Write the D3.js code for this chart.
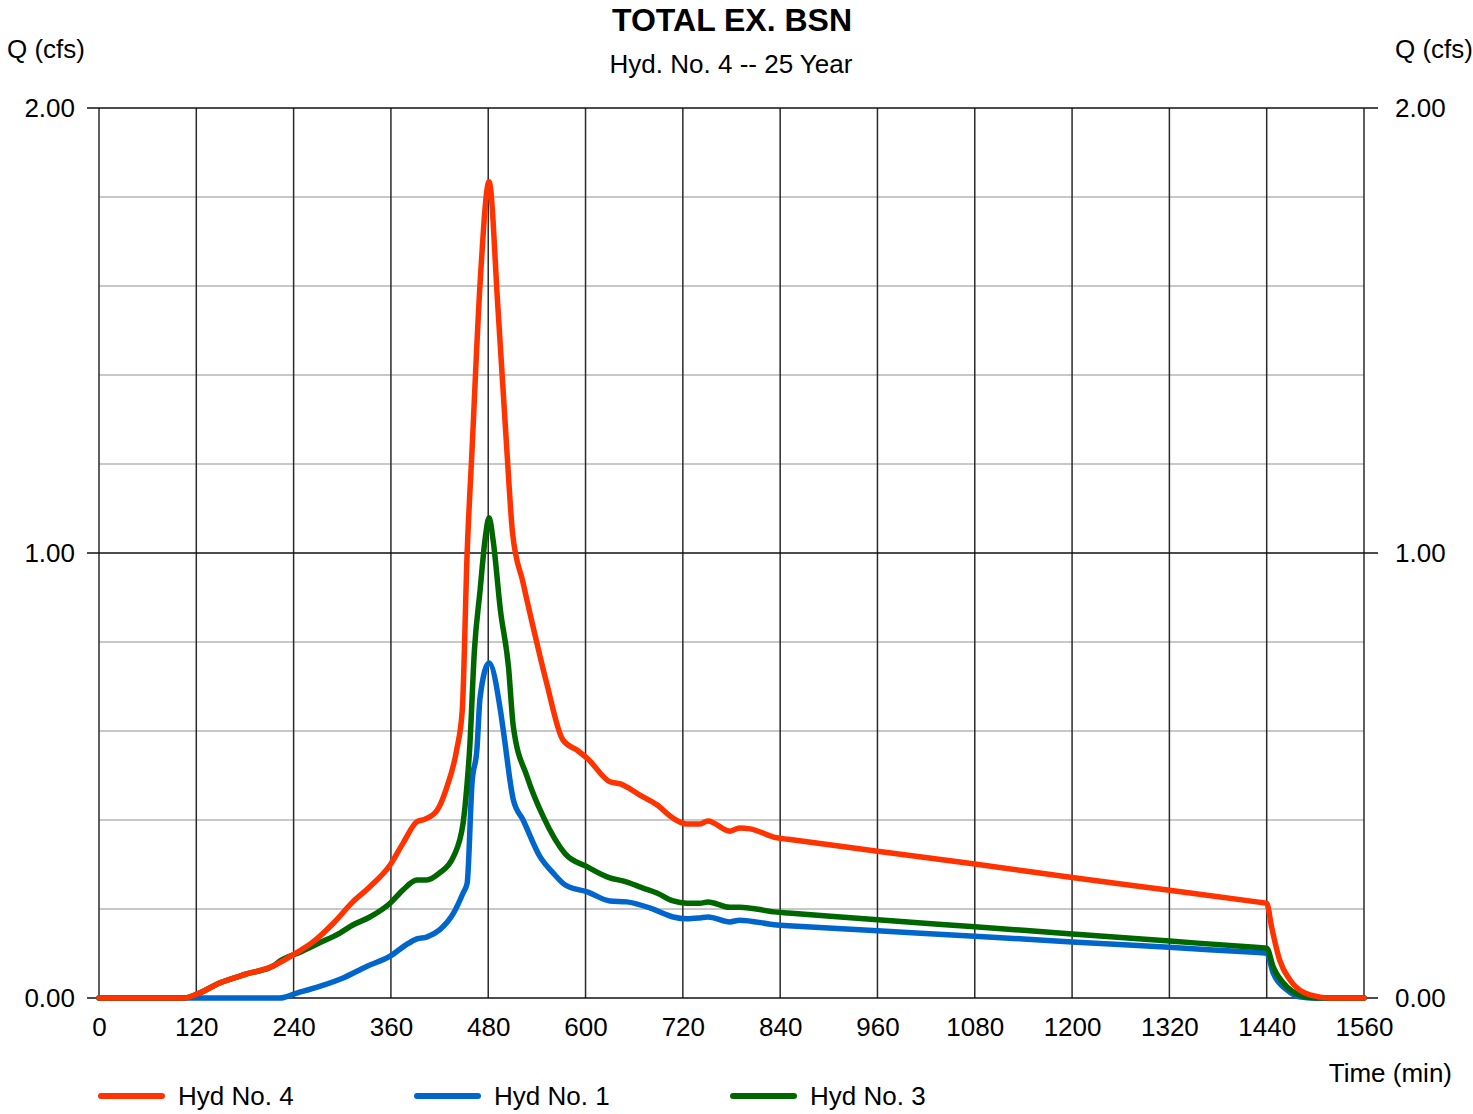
<!DOCTYPE html>
<html><head><meta charset="utf-8">
<script src="https://cdn.jsdelivr.net/npm/d3@7"></script>
<style>body{margin:0;background:#fff}svg{display:block}text{font-family:"Liberation Sans",Arial,sans-serif}</style>
</head><body>
<script>
const title = "TOTAL EX. BSN";
const subtitle = "Hyd. No. 4 -- 25 Year";
const xTicks = [0,120,240,360,480,600,720,840,960,1080,1200,1320,1440,1560];
const yTickLabels = ["0.00","1.00","2.00"];
const yMajor = [0,1,2];
const yMinor = [0.2,0.4,0.6,0.8,1.2,1.4,1.6,1.8];

const hyd4 = [[0,0],[105,0],[120,0.008],[149,0.034],[182,0.054],[215,0.072],[242,0.10],[264,0.126],[289,0.168],[313,0.216],[334,0.25],[359,0.299],[375,0.348],[392,0.396],[402,0.402],[417,0.422],[429,0.474],[441,0.557],[448,0.647],[454,1.0],[460,1.23],[470,1.607],[481,1.834],[492,1.55],[503,1.23],[510,1.045],[523,0.933],[540,0.798],[552,0.708],[572,0.58],[591,0.555],[603,0.537],[630,0.486],[643,0.481],[667,0.456],[688,0.434],[708,0.404],[725,0.391],[741,0.391],[751,0.398],[778,0.375],[790,0.382],[803,0.38],[836,0.36],[850,0.3566],[960,0.330],[1080,0.301],[1200,0.271],[1320,0.242],[1430,0.2154],[1440,0.213],[1446,0.16],[1456,0.085],[1469,0.04],[1485,0.013],[1506,0.002],[1520,0],[1560,0]];
const hyd1 = [[0,0],[223,0],[244,0.011],[272,0.026],[301,0.045],[330,0.071],[359,0.094],[379,0.12],[392,0.133],[404,0.137],[420,0.153],[437,0.19],[449,0.236],[454,0.258],[460,0.483],[466,0.557],[470,0.676],[481,0.753],[495,0.647],[499,0.596],[511,0.445],[523,0.40],[544,0.317],[560,0.281],[575,0.254],[603,0.238],[630,0.218],[651,0.216],[680,0.202],[708,0.182],[725,0.178],[741,0.18],[751,0.182],[778,0.171],[790,0.175],[836,0.164],[850,0.1626],[960,0.151],[1080,0.139],[1200,0.126],[1320,0.114],[1430,0.102],[1440,0.101],[1448,0.056],[1465,0.018],[1480,0.003],[1500,0],[1560,0]];
const hyd3 = [[0,0],[105,0],[120,0.008],[149,0.034],[182,0.054],[215,0.072],[223,0.083],[248,0.103],[272,0.124],[297,0.146],[313,0.164],[334,0.182],[359,0.213],[375,0.243],[392,0.265],[404,0.265],[420,0.281],[437,0.317],[449,0.393],[454,0.483],[457,0.557],[463,0.782],[470,0.917],[476,1.029],[481,1.079],[486,1.029],[495,0.872],[505,0.744],[511,0.609],[528,0.497],[548,0.407],[575,0.324],[603,0.294],[630,0.27],[646,0.263],[671,0.247],[688,0.236],[708,0.218],[725,0.213],[741,0.213],[751,0.216],[778,0.204],[790,0.204],[836,0.193],[850,0.1911],[960,0.176],[1080,0.160],[1200,0.144],[1320,0.128],[1430,0.1133],[1440,0.112],[1448,0.07],[1465,0.025],[1480,0.007],[1500,0],[1560,0]];
const seriesNames = ["Hyd No. 4","Hyd No. 1","Hyd No. 3"];
const seriesColors = ["#ff3300","#0066cc","#006600"];

const W=1473,H=1114;
const L=99,R=1364,T=108,B=998;
const FS=26;
const svg=d3.select("body").append("svg").attr("width",W).attr("height",H);
const x=d3.scaleLinear().domain([0,1560]).range([L,R]);
const y=d3.scaleLinear().domain([0,2]).range([B,T]);

svg.append("g").selectAll("line").data(yMinor).join("line")
  .attr("x1",L).attr("x2",R).attr("y1",d=>y(d)).attr("y2",d=>y(d))
  .attr("stroke","#c8c8c8").attr("stroke-width",2);
svg.append("g").selectAll("line").data(xTicks).join("line")
  .attr("x1",d=>x(d)).attr("x2",d=>x(d)).attr("y1",T).attr("y2",B)
  .attr("stroke","#2a2a2a").attr("stroke-width",1.5);
svg.append("g").selectAll("line").data(yMajor).join("line")
  .attr("x1",L-12).attr("x2",R+14).attr("y1",d=>y(d)).attr("y2",d=>y(d))
  .attr("stroke","#111").attr("stroke-width",1.5);

const styleText=sel=>sel.attr("font-size",FS).attr("fill","#000").attr("font-family","Liberation Sans, Arial, sans-serif");
const yAxisL=d3.axisLeft(y).tickValues(yMajor).tickFormat((d,i)=>yTickLabels[i]).tickSize(0).tickPadding(24);
svg.append("g").attr("transform",`translate(${L},0)`).call(yAxisL)
  .call(g=>g.select(".domain").remove()).selectAll("text").call(styleText);
const yAxisR=d3.axisRight(y).tickValues(yMajor).tickFormat((d,i)=>yTickLabels[i]).tickSize(0).tickPadding(31);
svg.append("g").attr("transform",`translate(${R},0)`).call(yAxisR)
  .call(g=>g.select(".domain").remove()).selectAll("text").call(styleText);
const xAxis=d3.axisBottom(x).tickValues(xTicks).tickFormat(d3.format("d")).tickSize(0).tickPadding(20);
svg.append("g").attr("transform",`translate(0,${B})`).call(xAxis)
  .call(g=>g.select(".domain").remove()).selectAll("text").call(styleText);

const line=d3.line().x(d=>x(d[0])).y(d=>y(d[1])).curve(d3.curveMonotoneX);
const order=[[hyd1,1],[hyd3,2],[hyd4,0]];
order.forEach(([data,i])=>{
  svg.append("path").datum(data).attr("d",line).attr("fill","none")
    .attr("stroke",seriesColors[i]).attr("stroke-width",5.5).attr("stroke-linejoin","round").attr("stroke-linecap","round");
});

svg.append("text").attr("x",732).attr("y",31).attr("text-anchor","middle").attr("font-size",32).attr("font-weight","bold").text(title);
svg.append("text").attr("x",731).attr("y",73).attr("text-anchor","middle").attr("font-size",FS).text(subtitle);
svg.append("text").attr("x",7).attr("y",58).attr("font-size",FS).text("Q (cfs)");
svg.append("text").attr("x",1473).attr("y",58).attr("text-anchor","end").attr("font-size",FS).text("Q (cfs)");
svg.append("text").attr("x",1452).attr("y",1082).attr("text-anchor","end").attr("font-size",FS).text("Time (min)");

const legX=[99,415,731];
seriesNames.forEach((n,i)=>{
  const g=svg.append("g");
  g.append("line").attr("x1",legX[i]+2).attr("x2",legX[i]+63).attr("y1",1096).attr("y2",1096)
    .attr("stroke",seriesColors[i]).attr("stroke-width",6).attr("stroke-linecap","round");
  g.append("text").attr("x",legX[i]+79).attr("y",1105).attr("font-size",FS).text(n);
});
</script>
</body></html>
